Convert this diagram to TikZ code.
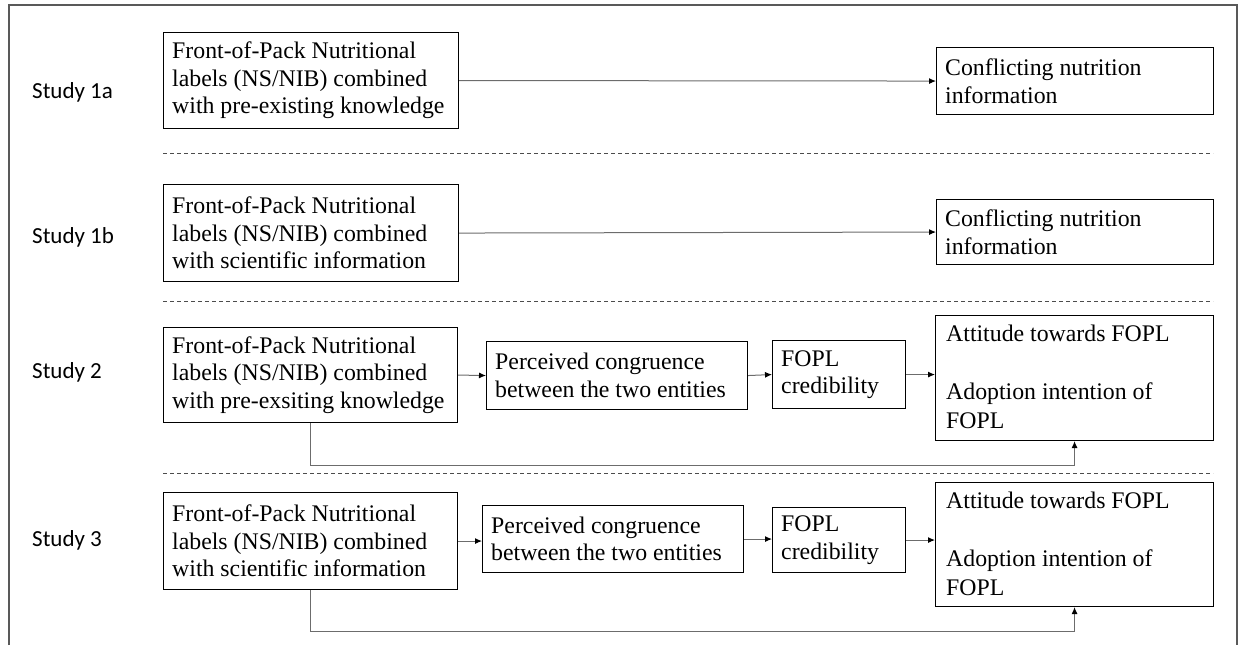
\documentclass[tikz,border=0pt]{standalone}
\usepackage{fontspec}
\setmainfont{Liberation Serif}
\newfontfamily\labfont{Carlito}
\usetikzlibrary{arrows.meta}
\begin{document}
\begin{tikzpicture}[x=1pt,y=-1pt,
 box/.style={draw=black, line width=1.1pt, rectangle, inner sep=0pt, anchor=north west},
 txt/.style={align=left, inner sep=0pt, anchor=west, font=\fontsize{23.8}{27.5}\selectfont},
 ttxt/.style={align=left, inner sep=0pt, anchor=north west, font=\fontsize{23.8}{29}\selectfont},
 study/.style={font=\labfont\fontsize{23}{27}\selectfont, inner sep=0pt, anchor=west},
 conn/.style={draw=gray!85!black, line width=1pt, -{Latex[length=7pt,width=6pt,color=black]}},
 sep/.style={draw=gray!60!black, line width=0.9pt, dash pattern=on 4pt off 3pt},
 frame/.style={draw=gray!70!black, line width=1.3pt}]
\useasboundingbox (0,0) rectangle (1238,645);
\draw[frame] (9,645) -- (9,5) -- (1237,5) -- (1237,645);

% Study labels
\node[study] (s1a) at (32,92) {Study 1a};
\node[study] (s1b) at (32,237) {Study 1b};
\node[study] (s2) at (32,372) {Study 2};
\node[study] (s3) at (32,540) {Study 3};

% Row 1a
\node[box, minimum width=295pt, minimum height=96pt] (b1a) at (163,32) {};
\node[txt] (t1a) at ([xshift=9pt]b1a.west) {Front-of-Pack Nutritional\\labels (NS/NIB) combined\\with pre-existing knowledge};
\node[box, minimum width=277pt, minimum height=67pt] (c1a) at (936,47) {};
\node[txt] (tc1a) at ([xshift=9pt]c1a.west) {Conflicting nutrition\\information};
\draw[conn] (b1a.east) -- (c1a.west);

\draw[sep] (163,153) -- (1213,153);

% Row 1b
\node[box, minimum width=295pt, minimum height=97pt] (b1b) at (163,184) {};
\node[txt] (t1b) at ([xshift=9pt]b1b.west) {Front-of-Pack Nutritional\\labels (NS/NIB) combined\\with scientific information};
\node[box, minimum width=277pt, minimum height=65pt] (c1b) at (936,199) {};
\node[txt] (tc1b) at ([xshift=9pt]c1b.west) {Conflicting nutrition\\information};
\draw[conn] (b1b.east) -- (c1b.west);

\draw[sep] (163,301) -- (1213,301);

% Row 2
\node[box, minimum width=294pt, minimum height=95pt] (b2) at (163,327) {};
\node[txt] (t2) at ([xshift=9pt]b2.west) {Front-of-Pack Nutritional\\labels (NS/NIB) combined\\with pre-exsiting knowledge};
\node[box, minimum width=261pt, minimum height=68pt] (p2) at (486,341) {};
\node[txt] (tp2) at ([xshift=9pt]p2.west) {Perceived congruence\\between the two entities};
\node[box, minimum width=133pt, minimum height=68pt] (f2) at (772,340) {};
\node[txt] (tf2) at ([xshift=9pt]f2.west) {FOPL\\credibility};
\node[box, minimum width=278pt, minimum height=125pt] (a2) at (935,315) {};
\node[ttxt] (ta2) at ([xshift=11pt,yshift=-10pt]a2.north west) {Attitude towards FOPL\\[29pt]Adoption intention of\\FOPL};
\draw[conn] (b2.east) -- (p2.west);
\draw[conn] (p2.east) -- (f2.west);
\draw[conn] (f2.east) -- (a2.west |- f2.east);
\draw[conn] (b2.south) -- ++(0,42) -| (a2.south);

\draw[sep] (163,473) -- (1213,473);

% Row 3
\node[box, minimum width=294pt, minimum height=97pt] (b3) at (163,492) {};
\node[txt] (t3) at ([xshift=9pt]b3.west) {Front-of-Pack Nutritional\\labels (NS/NIB) combined\\with scientific information};
\node[box, minimum width=261pt, minimum height=67pt] (p3) at (482,505) {};
\node[txt] (tp3) at ([xshift=9pt]p3.west) {Perceived congruence\\between the two entities};
\node[box, minimum width=133pt, minimum height=65pt] (f3) at (772,507) {};
\node[txt] (tf3) at ([xshift=9pt]f3.west) {FOPL\\credibility};
\node[box, minimum width=278pt, minimum height=124pt] (a3) at (935,482) {};
\node[ttxt] (ta3) at ([xshift=11pt,yshift=-10pt]a3.north west) {Attitude towards FOPL\\[29pt]Adoption intention of\\FOPL};
\draw[conn] (b3.east) -- (p3.west |- b3.east);
\draw[conn] (p3.east) -- (f3.west |- p3.east);
\draw[conn] (f3.east) -- (a3.west |- f3.east);
\draw[conn] (b3.south) -- ++(0,41) -| (a3.south);
\end{tikzpicture}
\end{document}
